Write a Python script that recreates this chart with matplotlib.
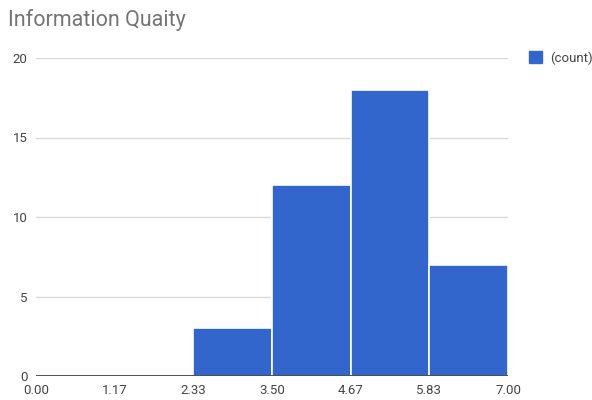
import matplotlib
matplotlib.use("Agg")
import matplotlib.pyplot as plt
from matplotlib.patches import Patch

plt.rcParams['font.family'] = ['Roboto', 'DejaVu Sans']

bin_edges = [0.00, 1.17, 2.33, 3.50, 4.67, 5.83, 7.00]
counts = [0, 0, 3, 12, 18, 7]
tick_labels = ["0.00", "1.17", "2.33", "3.50", "4.67", "5.83", "7.00"]
y_ticks = [0, 5, 10, 15, 20]
title = "Information Quaity"
series_name = "(count)"

bar_color = "#3366cc"

fig = plt.figure(figsize=(5.92, 4.0), dpi=100)
ax = fig.add_axes([36 / 592, 24 / 400, 472 / 592, 318 / 400])

lefts = bin_edges[:-1]
widths = [bin_edges[i + 1] - bin_edges[i] for i in range(len(counts))]
ax.bar(lefts, counts, width=widths, align="edge", color=bar_color,
       edgecolor="white", linewidth=1.2, zorder=3)

ax.set_xlim(0, 7)
ax.set_ylim(0, 20)
ax.set_xticks(bin_edges)
ax.set_xticklabels(tick_labels)
ax.set_yticks(y_ticks)
ax.grid(axis="y", color="#d9d9d9", linewidth=1, zorder=0)
ax.axhline(0, color="#333333", linewidth=1.2, zorder=4)

for s in ax.spines.values():
    s.set_visible(False)
ax.tick_params(axis="both", length=0, labelsize=9.5, colors="#444444")
ax.tick_params(axis="x", pad=6)
ax.tick_params(axis="y", pad=6)

fig.text(8 / 592, 1 - 20 / 400, title, fontsize=15.5, color="#757575",
         ha="left", va="center")

fig.legend(handles=[Patch(color=bar_color, label=series_name)],
           loc="center left", bbox_to_anchor=(524 / 592, 1 - 58 / 400),
           frameon=False, fontsize=9.5, handlelength=1.0, handleheight=1.0,
           handletextpad=0.6, labelcolor="#444444", borderaxespad=0)

fig.savefig("out.png", dpi=100)
